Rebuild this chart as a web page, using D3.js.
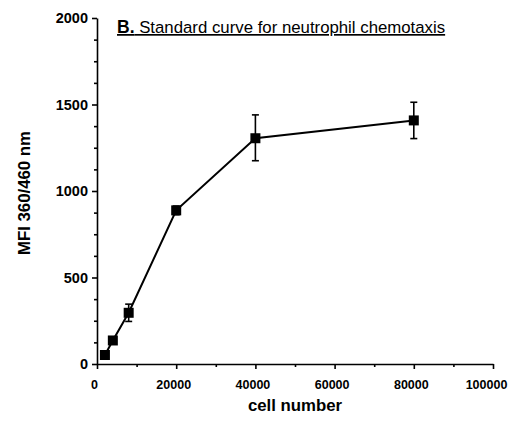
<!DOCTYPE html>
<html>
<head>
<meta charset="utf-8">
<script src="https://cdn.jsdelivr.net/npm/d3@7"></script>
<style>
  body { margin: 0; background: #fff; }
  svg { font-family: "Liberation Sans", Arial, sans-serif; }
</style>
</head>
<body>
<div id="chart"></div>
<script>
const cells = [2000, 4000, 8000, 20000, 40000, 80000];
const mfi = [52, 136, 296, 888, 1305, 1408];
const errLow = [0, 0, 50, 25, 130, 105];
const errHigh = [0, 0, 50, 25, 135, 105];
const xTicks = [0, 20000, 40000, 60000, 80000, 100000];
const yTicks = [0, 500, 1000, 1500, 2000];

const width = 514, height = 434;
const margin = { left: 97, right: 21, top: 18, bottom: 70 };

const svg = d3.select("#chart").append("svg")
    .attr("width", width)
    .attr("height", height);

const x = d3.scaleLinear().domain([0, 100000]).range([margin.left, width - margin.right]);
const y = d3.scaleLinear().domain([0, 2000]).range([height - margin.bottom, margin.top]);

// minor ticks first
svg.append("g")
    .attr("transform", `translate(0, ${y(0)})`)
    .call(d3.axisBottom(x).tickValues(d3.range(10000, 100000, 20000)).tickSize(3).tickFormat(""))
    .call(g => g.select(".domain").remove());
svg.append("g")
    .attr("transform", `translate(${x(0)}, 0)`)
    .call(d3.axisLeft(y).tickValues(d3.range(0, 2000, 125).filter(v => v % 500)).tickSize(3).tickFormat(""))
    .call(g => g.select(".domain").remove());

const xAxis = svg.append("g")
    .attr("transform", `translate(0, ${y(0)})`)
    .call(d3.axisBottom(x).tickValues(xTicks).tickSize(5).tickSizeOuter(0).tickPadding(11).tickFormat(d3.format("d")));
const yAxis = svg.append("g")
    .attr("transform", `translate(${x(0)}, 0)`)
    .call(d3.axisLeft(y).tickValues(yTicks).tickSize(5).tickSizeOuter(0).tickPadding(4).tickFormat(d3.format("d")));

xAxis.selectAll("text").attr("font-size", 12.5).attr("dx", d => d === 100000 ? -7 : -3);
yAxis.selectAll("text").attr("font-size", 14.5);
[xAxis, yAxis].forEach(a => {
    a.selectAll("text").attr("font-weight", "bold").attr("fill", "#000")
        .attr("font-family", "Liberation Sans, Arial, sans-serif");
    a.selectAll("path").attr("stroke", "#000").attr("stroke-width", 1.6);
});
svg.selectAll("g line").attr("stroke", "#000").attr("stroke-width", 1.6);

const pts = cells.map((c, i) => ({ c, v: mfi[i], lo: mfi[i] - errLow[i], hi: mfi[i] + errHigh[i] }));

svg.append("path")
    .datum(pts)
    .attr("fill", "none")
    .attr("stroke", "#000")
    .attr("stroke-width", 2)
    .attr("d", d3.line().x(d => x(d.c)).y(d => y(d.v)));

const eb = svg.append("g").attr("stroke", "#000").attr("stroke-width", 1.6);
pts.filter(d => d.hi > d.v).forEach(d => {
    eb.append("line").attr("x1", x(d.c)).attr("x2", x(d.c)).attr("y1", y(d.lo)).attr("y2", y(d.hi));
    eb.append("line").attr("x1", x(d.c) - 3.5).attr("x2", x(d.c) + 3.5).attr("y1", y(d.lo)).attr("y2", y(d.lo));
    eb.append("line").attr("x1", x(d.c) - 3.5).attr("x2", x(d.c) + 3.5).attr("y1", y(d.hi)).attr("y2", y(d.hi));
});

svg.append("g").selectAll("rect")
    .data(pts)
    .join("rect")
    .attr("x", d => x(d.c) - 5)
    .attr("y", d => y(d.v) - 5)
    .attr("width", 10)
    .attr("height", 10)
    .attr("fill", "#000");

// title
const title = svg.append("text")
    .attr("x", 117)
    .attr("y", 33)
    .attr("font-size", 16.8)
    .attr("fill", "#000")
    .attr("text-decoration", "underline");
title.append("tspan").attr("font-weight", "bold").attr("font-size", 17.5).text("B.");
title.append("tspan").text(" Standard curve for neutrophil chemotaxis");

svg.append("text")
    .attr("x", (x(0) + x(100000)) / 2)
    .attr("y", 411)
    .attr("text-anchor", "middle")
    .attr("font-size", 16.8)
    .attr("font-weight", "bold")
    .text("cell number");

svg.append("text")
    .attr("transform", `translate(30, 193) rotate(-90)`)
    .attr("text-anchor", "middle")
    .attr("font-size", 16.8)
    .attr("font-weight", "bold")
    .text("MFI 360/460 nm");
</script>
</body>
</html>
